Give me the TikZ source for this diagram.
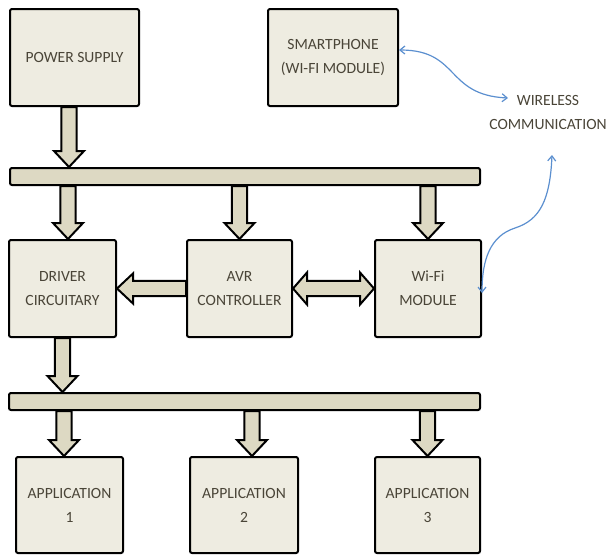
\documentclass[tikz,border=0pt]{standalone}
\usepackage{fontspec}
\setmainfont{Carlito}
\usetikzlibrary{calc,arrows.meta}
\definecolor{boxfill}{HTML}{EEECE1}
\definecolor{arrfill}{HTML}{DDD9C3}
\definecolor{txtgray}{HTML}{4A4538}
\definecolor{linkblue}{HTML}{5B8FCF}

\newcommand\fatarrow[2]{%
  \coordinate (fa-s) at (#1);
  \coordinate (fa-e) at (#2);
  \coordinate (fa-h) at ($(fa-e)!8pt!(fa-s)$);
  \draw[fatbody] ($(fa-s)!3.8pt!90:(fa-e)$) -- ($(fa-h)!3.8pt!-90:(fa-s)$) -- ($(fa-h)!7.5pt!-90:(fa-s)$) -- (fa-e) -- ($(fa-h)!7.5pt!90:(fa-s)$) -- ($(fa-h)!3.8pt!90:(fa-s)$) -- ($(fa-s)!3.8pt!-90:(fa-e)$) -- cycle;}
\newcommand\fatdblarrow[2]{%
  \coordinate (fa-s) at (#1);
  \coordinate (fa-e) at (#2);
  \coordinate (fa-h) at ($(fa-e)!7pt!(fa-s)$);
  \coordinate (fa-g) at ($(fa-s)!7pt!(fa-e)$);
  \draw[fatbody] (fa-s) -- ($(fa-g)!8pt!90:(fa-e)$) -- ($(fa-g)!3.8pt!90:(fa-e)$) -- ($(fa-h)!3.8pt!-90:(fa-s)$) -- ($(fa-h)!8pt!-90:(fa-s)$) -- (fa-e) -- ($(fa-h)!8pt!90:(fa-s)$) -- ($(fa-h)!3.8pt!90:(fa-s)$) -- ($(fa-g)!3.8pt!-90:(fa-e)$) -- ($(fa-g)!8pt!-90:(fa-e)$) -- cycle;}

\begin{document}
\begin{tikzpicture}[x=0.5pt,y=-0.5pt,
  font=\fontsize{7.8}{12}\selectfont,
  block/.style={draw=black,line width=1pt,fill=boxfill,rounded corners=1pt,text=txtgray,align=center,inner sep=0pt},
  bus/.style={draw=black,line width=1pt,fill=arrfill,rounded corners=1pt,minimum height=8.5pt,inner sep=0pt},
  fatbody/.style={draw=black,line width=1pt,fill=arrfill,line join=miter},
  link/.style={draw=linkblue,line width=0.6pt,{Straight Barb[length=2.5pt,width=4pt]}-{Straight Barb[length=2.5pt,width=4pt]}}]
\useasboundingbox (0,0) rectangle (609,554);
\node[block,minimum width=64.5pt,minimum height=48.5pt] (power) at (74.5,57.5) {POWER SUPPLY};
\node[block,minimum width=65pt,minimum height=48.5pt] (phone) at (333,57.5) {SMARTPHONE\\(WI-FI MODULE)};
\node[text=txtgray,align=center,inner sep=0pt] (wireless) at (548,112) {WIRELESS\\COMMUNICATION};
\node[bus,minimum width=235pt] (bus1) at (245,176.5) {};
\node[block,minimum width=53.5pt,minimum height=48.5pt] (driver) at (62.5,288.5) {DRIVER\\CIRCUITARY};
\node[block,minimum width=52.5pt,minimum height=48.5pt] (avr) at (239.5,288.5) {AVR\\CONTROLLER};
\node[block,minimum width=53pt,minimum height=48.5pt] (wifi) at (428,288.5) {Wi-Fi\\MODULE};
\node[bus,minimum width=235.5pt] (bus2) at (244.5,401.5) {};
\node[block,minimum width=53.5pt,minimum height=48pt] (app1) at (69.5,505) {APPLICATION\\1};
\node[block,minimum width=54pt,minimum height=48pt] (app2) at (244,505) {APPLICATION\\2};
\node[block,minimum width=52.5pt,minimum height=48pt] (app3) at (427.5,505) {APPLICATION\\3};

\coordinate (pw-out) at ([xshift=-2.75pt]power.south);
\fatarrow{pw-out}{pw-out |- bus1.north}
\coordinate (dr-in) at ([xshift=2.75pt]driver.north);
\fatarrow{dr-in |- bus1.south}{dr-in}
\fatarrow{avr.north |- bus1.south}{avr.north}
\fatarrow{wifi.north |- bus1.south}{wifi.north}
\fatarrow{avr.west}{driver.east}
\fatdblarrow{avr.east}{wifi.west}
\fatarrow{driver.south}{driver.south |- bus2.north}
\coordinate (a1-in) at ([xshift=-2.75pt]app1.north);
\fatarrow{a1-in |- bus2.south}{a1-in}
\coordinate (a2-in) at ([xshift=4pt]app2.north);
\fatarrow{a2-in |- bus2.south}{a2-in}
\fatarrow{app3.north |- bus2.south}{app3.north}

\coordinate (ph-out) at ([yshift=3.75pt]phone.east);
\coordinate (wl-in) at (508,98);
\coordinate (wl-out) at (552,155);
\coordinate (wf-in) at ([yshift=-2.25pt]wifi.east);
\draw[link] (ph-out) .. controls (460,50) and (445,95) .. (wl-in);
\draw[link] (wl-out) .. controls (550,200) and (540,220) .. (515,228) .. controls (490,236) and (482,260) .. (wf-in);
\end{tikzpicture}
\end{document}
